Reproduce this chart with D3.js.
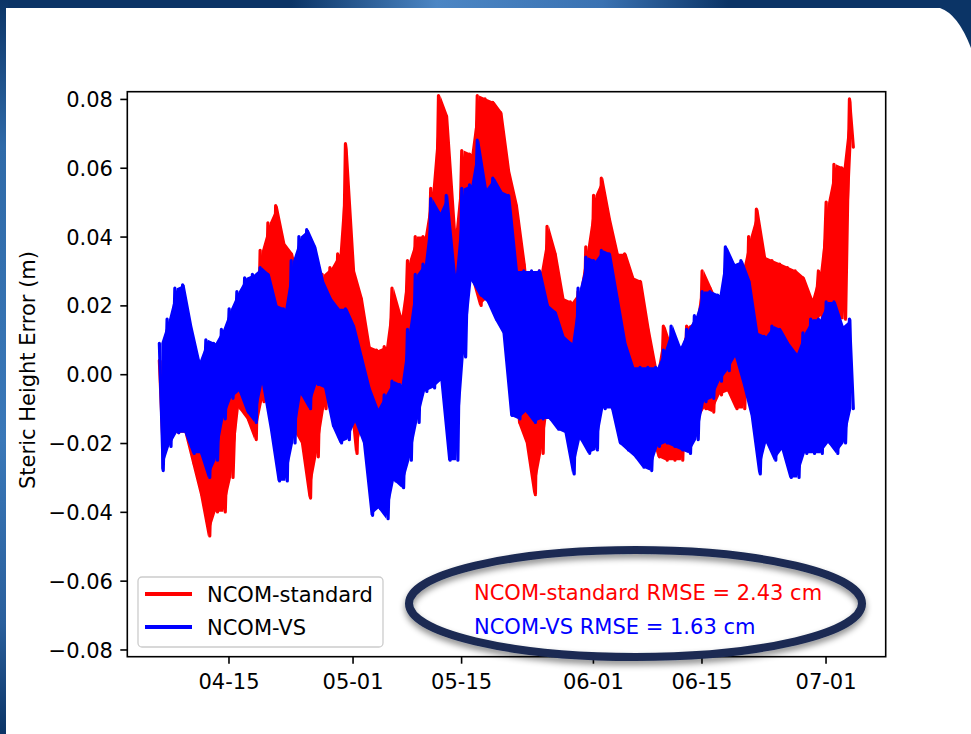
<!DOCTYPE html>
<html><head><meta charset="utf-8">
<script src="https://cdn.jsdelivr.net/npm/d3@7"></script>
<style>
body{margin:0;background:#fff}
svg{display:block}
text{font-family:"DejaVu Sans",sans-serif}
</style>
</head><body>
<svg id="c" width="971" height="734"></svg>
<script>
// ---------------- data ----------------
// one pair of values (daily high, daily low) per day, starting 2019-04-06, values in metres
const startDate = "2019-04-06T02:00:00";
const stepHours = 12;
const redHigh = [0.004,0.005,0.021,0.012,0.012,0.002,-0.001,-0.006,-0.004,-0.002,
  0.005,0.010,0.024,0.036,0.044,0.049,0.038,0.035,0.025,0.022,
  0.022,0.029,0.031,0.035,0.067,0.030,0.022,0.008,0.007,0.008,
  0.025,0.017,0.033,0.040,0.040,0.054,0.081,0.075,0.042,0.065,
  0.064,0.081,0.080,0.079,0.076,0.059,0.049,0.032,0.010,0.030,
  0.043,0.035,0.022,0.021,0.024,0.037,0.052,0.057,0.045,0.035,
  0.035,0.028,0.027,0.013,0.001,0.014,0.007,0.007,0.014,0.015,
  0.030,0.025,0.020,0.025,0.025,0.030,0.040,0.048,0.034,0.033,
  0.032,0.031,0.030,0.028,0.022,0.030,0.050,0.061,0.060,0.080];
const redLow = [-0.022,-0.017,-0.017,-0.017,-0.026,-0.035,-0.047,-0.040,-0.040,-0.030,
  -0.010,-0.013,-0.019,-0.008,-0.005,-0.014,-0.012,-0.016,-0.020,-0.036,
  -0.024,-0.010,-0.005,-0.004,0.000,-0.023,-0.014,-0.014,-0.017,-0.012,
  -0.005,-0.003,-0.002,0.005,0.010,0.010,0.016,0.016,0.016,0.030,
  0.028,0.020,0.022,0.025,0.025,0.020,-0.014,-0.020,-0.035,-0.023,
  -0.008,-0.008,-0.012,-0.010,-0.012,-0.012,-0.012,-0.008,-0.010,-0.010,
  -0.012,-0.014,-0.014,-0.016,-0.024,-0.025,-0.025,-0.025,-0.015,-0.014,
  -0.010,-0.011,-0.006,-0.005,-0.010,-0.010,0.002,0.001,0.009,0.004,
  0.005,0.006,0.005,0.008,0.013,0.017,0.005,0.016,0.016,0.066];
const blueHigh = [0.009,0.016,0.025,0.026,0.014,0.004,0.010,0.009,0.013,0.019,
  0.024,0.028,0.029,0.031,0.029,0.020,0.019,0.033,0.040,0.042,
  0.037,0.027,0.022,0.019,0.019,0.014,0.005,-0.004,-0.010,-0.006,
  -0.002,-0.003,0.013,0.029,0.032,0.051,0.047,0.052,0.029,0.054,
  0.055,0.068,0.054,0.057,0.053,0.052,0.030,0.030,0.030,0.030,
  0.020,0.018,0.011,0.009,0.025,0.034,0.033,0.036,0.035,0.022,
  0.009,0.002,0.002,0.002,0.002,0.007,0.014,0.008,0.013,0.017,
  0.024,0.024,0.023,0.037,0.032,0.033,0.027,0.012,0.011,0.014,
  0.013,0.009,0.006,0.012,0.016,0.016,0.021,0.021,0.014,0.016];
const blueLow = [-0.028,-0.021,-0.017,-0.017,-0.023,-0.023,-0.030,-0.025,-0.013,-0.007,
  -0.005,-0.011,-0.014,-0.003,-0.016,-0.031,-0.031,-0.020,-0.006,-0.010,
  -0.003,-0.004,-0.015,-0.020,-0.019,-0.014,-0.020,-0.041,-0.039,-0.042,
  -0.031,-0.033,-0.025,-0.014,-0.005,-0.004,-0.002,-0.025,-0.025,0.005,
  0.027,0.023,0.021,0.016,0.012,-0.012,-0.013,-0.011,-0.014,-0.013,
  -0.013,-0.016,-0.017,-0.029,-0.019,-0.023,-0.022,-0.010,-0.010,-0.020,
  -0.022,-0.024,-0.027,-0.028,-0.021,-0.020,-0.021,-0.022,-0.023,-0.019,
  -0.008,-0.007,-0.002,0.001,0.005,-0.003,-0.012,-0.029,-0.020,-0.025,
  -0.022,-0.030,-0.030,-0.023,-0.023,-0.023,-0.020,-0.023,-0.020,-0.010];
const seriesNames = ["NCOM-standard","NCOM-VS"];
const seriesColors = ["#ff0000","#0000ff"];
const rmseLabels = ["NCOM-standard RMSE = 2.43 cm","NCOM-VS RMSE = 1.63 cm"];
const yTicks = [0.08,0.06,0.04,0.02,0.00,-0.02,-0.04,-0.06,-0.08];
const xTickDates = ["2019-04-15T00:00:00","2019-05-01T00:00:00","2019-05-15T00:00:00","2019-06-01T00:00:00","2019-06-15T00:00:00","2019-07-01T00:00:00"];
const xDomain = ["2019-04-01T22:48:00","2019-07-08T18:14:00"];
const yDomain = [-0.0821,0.0821];
const yLabel = "Steric Height Error (m)";

// ---------------- layout ----------------
const W = 971, H = 734;
const plot = {l:127.3, r:885.7, t:91.7, b:656.7};
const svg = d3.select("#c");

// slide background
const defs = svg.append("defs");
const g1 = defs.append("linearGradient").attr("id","topg").attr("x1",0).attr("x2",1);
g1.append("stop").attr("offset","0").attr("stop-color","#0b3466");
g1.append("stop").attr("offset","0.3").attr("stop-color","#0b3466");
g1.append("stop").attr("offset","0.45").attr("stop-color","#4c86c4");
g1.append("stop").attr("offset","0.62").attr("stop-color","#3a72b2");
g1.append("stop").attr("offset","0.75").attr("stop-color","#0b3466");
g1.append("stop").attr("offset","1").attr("stop-color","#0b3466");
const g2 = defs.append("linearGradient").attr("id","leftg").attr("x1",0).attr("x2",0).attr("y1",0).attr("y2",1);
g2.append("stop").attr("offset","0").attr("stop-color","#0b3466");
g2.append("stop").attr("offset","0.2").attr("stop-color","#2f6aa8");
g2.append("stop").attr("offset","0.6").attr("stop-color","#3a78b8");
g2.append("stop").attr("offset","0.85").attr("stop-color","#2a5f9c");
g2.append("stop").attr("offset","1").attr("stop-color","#0b3466");
svg.append("rect").attr("width",W).attr("height",H).attr("fill","#0b3466");
svg.append("rect").attr("x",0).attr("y",0).attr("width",W).attr("height",10).attr("fill","url(#topg)");
svg.append("rect").attr("x",0).attr("y",0).attr("width",8).attr("height",H).attr("fill","url(#leftg)");
svg.append("path").attr("d","M6,8 L940,8 Q958,14 971,48 L971,734 L6,734 Z").attr("fill","#ffffff");

const x = d3.scaleTime().domain(xDomain.map(s=>new Date(s))).range([plot.l, plot.r]);
const y = d3.scaleLinear().domain(yDomain).range([plot.b, plot.t]);

const t0 = new Date(startDate).getTime();
const hourMs = 3600e3;
function buildSeries(hi, lo){
  const out = [];
  hi.forEach((v,i)=>{
    out.push({t:new Date(t0 + (2*i)*stepHours*hourMs), v:v});
    out.push({t:new Date(t0 + (2*i+1)*stepHours*hourMs), v:lo[i]});
  });
  return out;
}
function buildBand(hi, lo){
  return hi.map((v,i)=>({t:new Date(t0 + (2*i+0.5)*stepHours*hourMs), hi:v, lo:lo[i]}));
}
const series = [buildSeries(redHigh, redLow), buildSeries(blueHigh, blueLow)];
const bands = [buildBand(redHigh, redLow), buildBand(blueHigh, blueLow)];

defs.append("clipPath").attr("id","clip").append("rect")
  .attr("x",plot.l).attr("y",plot.t).attr("width",plot.r-plot.l).attr("height",plot.b-plot.t);

const line = d3.line().x(d=>x(d.t)).y(d=>y(d.v));
const area = d3.area().x(d=>x(d.t)).y0(d=>y(d.lo)).y1(d=>y(d.hi));
const gl = svg.append("g").attr("clip-path","url(#clip)");
series.forEach((s,i)=>{
  gl.append("path").datum(bands[i]).attr("d",area).attr("fill",seriesColors[i]).attr("stroke","none");
  gl.append("path").datum(s).attr("d",line).attr("fill","none")
    .attr("stroke",seriesColors[i]).attr("stroke-width",3.2)
    .attr("stroke-linejoin","round").attr("stroke-linecap","round");
});

// axes
const yAxis = d3.axisLeft(y).tickValues(yTicks).tickSize(7).tickPadding(7.4).tickFormat(d3.format(".2f"));
const gy = svg.append("g").attr("transform",`translate(${plot.l},0)`).call(yAxis);
const xAxis = d3.axisBottom(x).tickValues(xTickDates.map(s=>new Date(s))).tickSize(7).tickPadding(7.4).tickFormat(d3.timeFormat("%m-%d"));
const gx = svg.append("g").attr("transform",`translate(0,${plot.b})`).call(xAxis);
[gx,gy].forEach(g=>{
  g.select(".domain").remove();
  g.selectAll(".tick line").attr("stroke","#000").attr("stroke-width",1.6);
  g.selectAll(".tick text").attr("fill","#000").style("font-size","21px").style("font-family","DejaVu Sans");
});
gx.selectAll(".tick text").attr("dy",null).attr("y", 689.5-plot.b);
gy.selectAll(".tick text").attr("dy","0.36em");

svg.append("rect").attr("x",plot.l).attr("y",plot.t).attr("width",plot.r-plot.l).attr("height",plot.b-plot.t)
  .attr("fill","none").attr("stroke","#000").attr("stroke-width",1.6);

svg.append("text").attr("transform","translate(35,370) rotate(-90)").attr("text-anchor","middle")
  .style("font-size","21px").attr("fill","#000").text(yLabel);

// legend
const lg = svg.append("g");
lg.append("rect").attr("x",138).attr("y",577).attr("width",245).attr("height",70).attr("rx",4)
  .attr("fill","#fff").attr("fill-opacity",0.8).attr("stroke","#cccccc").attr("stroke-width",1.3);
seriesNames.forEach((n,i)=>{
  const cy = 594 + i*33;
  lg.append("line").attr("x1",145).attr("x2",192).attr("y1",cy).attr("y2",cy)
    .attr("stroke",seriesColors[i]).attr("stroke-width",4);
  lg.append("text").attr("x",207).attr("y",cy+7.7).style("font-size","21px").attr("fill","#000").text(n);
});

// RMSE ellipse annotation
const f = defs.append("filter").attr("id","sh").attr("x","-10%").attr("y","-20%").attr("width","120%").attr("height","150%");
f.append("feDropShadow").attr("dx",0).attr("dy",4).attr("stdDeviation",3).attr("flood-color","#000").attr("flood-opacity",0.45);
svg.append("ellipse").attr("cx",635.5).attr("cy",603.5).attr("rx",226.5).attr("ry",53.5)
  .attr("fill","none").attr("stroke","#1b2a52").attr("stroke-width",8).attr("filter","url(#sh)");
rmseLabels.forEach((t,i)=>{
  svg.append("text").attr("x",474).attr("y",592+i*34+7.7).style("font-size","21px")
    .attr("fill",seriesColors[i]).text(t);
});
</script>
</body></html>
